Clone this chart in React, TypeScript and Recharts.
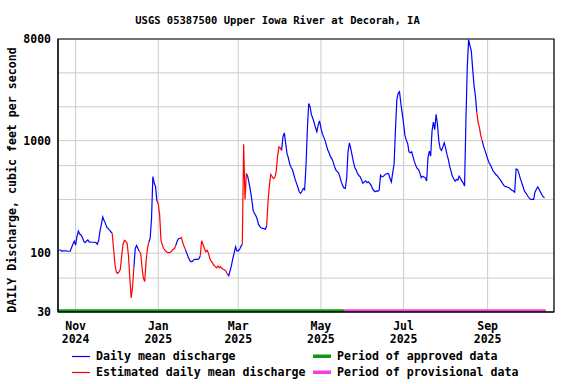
import { LineChart, Line, XAxis, YAxis, CartesianGrid, ReferenceArea } from "recharts";

// daily mean discharge (cfs), one value per day starting 2024-10-20
const START = "2024-10-20";
const discharge = [
  107, 106, 104, 105, 105, 105, 104, 104, 104, 112,
  120, 128, 118, 140, 157, 148, 145, 138, 128, 124,
  128, 131, 126, 125, 125, 125, 125, 124, 120, 130,
  158, 180, 210, 195, 184, 170, 165, 160, 155, 150,
  110, 80, 68, 66, 68, 72, 95, 120, 130, 128,
  122, 95, 60, 40, 50, 75, 110, 117, 110, 104,
  100, 75, 60, 56, 85, 110, 125, 135, 200, 480,
  420, 390, 290, 275, 220, 130, 118, 110, 106, 103,
  101, 101, 102, 105, 108, 110, 118, 128, 135, 135,
  138, 125, 115, 108, 100, 93, 87, 84, 84, 87,
  88, 88, 88, 89, 95, 129, 120, 110, 103, 106,
  100, 90, 85, 82, 78, 76, 74, 77, 74, 76,
  73, 72, 71, 69, 65, 63, 70, 78, 90, 100,
  114, 105, 105, 108, 115, 120, 930, 300, 510, 480,
  420, 360, 300, 240, 225, 215, 200, 180, 172, 168,
  166, 165, 163, 175, 290, 400, 500, 480, 460, 470,
  530, 720, 880, 860, 820, 1080, 1170, 950, 770, 700,
  620, 580, 550, 500, 452, 417, 385, 351, 340, 355,
  376, 365, 600, 1258, 2140, 2000, 1700, 1580, 1450, 1300,
  1200, 1374, 1500, 1300, 1160, 1080, 1010, 912, 830, 780,
  720, 695, 648, 590, 550, 530, 517, 477, 430, 400,
  380, 376, 461, 795, 956, 853, 743, 648, 578, 547,
  511, 490, 477, 446, 417, 430, 439, 422, 430, 417,
  402, 376, 360, 351, 358, 355, 362, 494, 477, 480,
  494, 505, 511, 505, 461, 430, 520, 620, 1240, 2290,
  2630, 2720, 2140, 1745, 1420, 1119, 1010, 944, 795, 779,
  795, 718, 650, 600, 566, 555, 517, 467, 483, 475,
  467, 437, 703, 807, 728, 1214, 1459, 1250, 1710, 1394,
  1000, 850, 818, 880, 956, 863, 754, 681, 593, 536,
  483, 458, 437, 452, 446, 483, 460, 437, 422, 394,
  1500, 4500, 7900, 7000, 6250, 4300, 3100, 2500, 1800, 1450,
  1300, 1100, 1000, 893, 824, 754, 690, 640, 610, 573,
  540, 520, 500, 491, 470, 455, 437, 417, 400, 392,
  388, 385, 380, 370, 362, 356, 348, 560, 555, 517,
  467, 430, 395, 360, 345, 332, 317, 305, 300, 300,
  300, 350, 370, 388, 370, 350, 330, 318, 310,
];

// day-index spans drawn as estimated (red)
const estimatedRanges = [
  [39, 55], [59, 66], [72, 86], [89, 93], [104, 124],
  [135, 138], [153, 164], [308, 312],
];

const axisRange = ["2024-10-19", "2025-10-20"];
const approvedPeriod = ["2024-10-19", "2025-05-18"];
const provisionalPeriod = ["2025-05-18", "2025-10-14"];

const monthTicks = [
  { date: "2024-11-01", month: "Nov", year: "2024" },
  { date: "2025-01-01", month: "Jan", year: "2025" },
  { date: "2025-03-01", month: "Mar", year: "2025" },
  { date: "2025-05-01", month: "May", year: "2025" },
  { date: "2025-07-01", month: "Jul", year: "2025" },
  { date: "2025-09-01", month: "Sep", year: "2025" },
];

const gridValues = [
  30, 40, 50, 60, 70, 80, 90, 100, 200, 300, 400, 500, 600, 700, 800, 900,
  1000, 2000, 3000, 4000, 5000, 6000, 7000, 8000,
];
const labeledValues = [30, 100, 1000, 8000];

const dayIndex = (iso: string) =>
  Math.round((Date.parse(iso + "T00:00:00Z") - Date.parse(START + "T00:00:00Z")) / 86400000);

const FONT = "'DejaVu Sans Mono', monospace";
const BLUE = "#0000ff";
const RED = "#ff0000";
const GREEN = "#109910";
const PINK = "#f040e0";

const W = 576;
const H = 384;
const PLOT_LEFT = 58;
const PLOT_BOTTOM = 312;

const rows = discharge.map((v, i) => {
  const inEst = estimatedRanges.some(([a, b]) => i >= a && i <= b);
  const interior = estimatedRanges.some(([a, b]) => i > a && i < b);
  return { day: i, blue: interior ? null : v, red: inEst ? v : null };
});

const xDomain = axisRange.map(dayIndex);
const tickDays = monthTicks.map((m) => dayIndex(m.date));

function XTick(props: any) {
  const m = monthTicks.find((t) => dayIndex(t.date) === props.payload.value);
  if (!m) return <g />;
  return (
    <g>
      <text x={props.x} y={PLOT_BOTTOM + 18} textAnchor="middle" fontFamily={FONT} fontWeight="bold" fontSize={11.5} fill="#000">
        {m.month}
      </text>
      <text x={props.x} y={PLOT_BOTTOM + 31} textAnchor="middle" fontFamily={FONT} fontWeight="bold" fontSize={11.5} fill="#000">
        {m.year}
      </text>
    </g>
  );
}

function YTick(props: any) {
  if (!labeledValues.includes(props.payload.value)) return <g />;
  return (
    <text x={PLOT_LEFT - 7} y={props.y + 4} textAnchor="end" fontFamily={FONT} fontWeight="bold" fontSize={11.5} fill="#000">
      {props.payload.value}
    </text>
  );
}

export default function App() {
  return (
    <div style={{ position: "absolute", left: 0, top: 0, width: W, height: H, background: "#fff" }}>
      <LineChart width={W} height={H} data={rows} margin={{ top: 39, right: 22, bottom: 32, left: 0 }}>
        <CartesianGrid stroke="#cccccc" strokeWidth={1} />
        <XAxis
          dataKey="day"
          type="number"
          domain={xDomain}
          ticks={tickDays}
          height={40}
          tickLine={false}
          axisLine={{ stroke: "#000" }}
          tick={<XTick />}
          allowDataOverflow
        />
        <YAxis
          type="number"
          scale="log"
          domain={[30, 8000]}
          ticks={gridValues}
          width={PLOT_LEFT}
          tickLine={false}
          axisLine={{ stroke: "#000" }}
          tick={<YTick />}
          allowDataOverflow
        />
        <ReferenceArea x1={dayIndex(approvedPeriod[0])} x2={dayIndex(approvedPeriod[1])} y1={30} y2={31.8} fill={GREEN} fillOpacity={1} stroke="none" />
        <ReferenceArea x1={dayIndex(provisionalPeriod[0])} x2={dayIndex(provisionalPeriod[1])} y1={30} y2={31.8} fill={PINK} fillOpacity={1} stroke="none" />
        <ReferenceArea x1={xDomain[0]} x2={xDomain[1]} y1={30} y2={8000} fill="none" stroke="#000" strokeWidth={1.2} />
        <Line dataKey="blue" stroke={BLUE} strokeWidth={1.2} dot={false} type="linear" isAnimationActive={false} connectNulls={false} />
        <Line dataKey="red" stroke={RED} strokeWidth={1.2} dot={false} type="linear" isAnimationActive={false} connectNulls={false} />
      </LineChart>
      <svg width={W} height={H} style={{ position: "absolute", left: 0, top: 0, pointerEvents: "none" }}>
        <text x={277.5} y={24} textAnchor="middle" fontFamily={FONT} fontWeight="bold" fontSize={10.5} fill="#000">
          USGS 05387500 Upper Iowa River at Decorah, IA
        </text>
        <text
          transform="translate(15.5,180) rotate(-90)"
          textAnchor="middle"
          fontFamily={FONT}
          fontWeight="bold"
          fontSize={11.6}
          fill="#000"
        >
          DAILY Discharge, cubic feet per second
        </text>
        <line x1={72} x2={90} y1={356.5} y2={356.5} stroke={BLUE} strokeWidth={1.2} />
        <text x={96} y={360} fontFamily={FONT} fontWeight="bold" fontSize={11.6} fill="#000">Daily mean discharge</text>
        <line x1={72} x2={90} y1={372.5} y2={372.5} stroke={RED} strokeWidth={1.2} />
        <text x={96} y={376} fontFamily={FONT} fontWeight="bold" fontSize={11.6} fill="#000">Estimated daily mean discharge</text>
        <rect x={313} y={354.5} width={18} height={3.5} fill={GREEN} />
        <text x={337} y={360} fontFamily={FONT} fontWeight="bold" fontSize={11.6} fill="#000">Period of approved data</text>
        <rect x={313} y={370.5} width={18} height={3.5} fill={PINK} />
        <text x={337} y={376} fontFamily={FONT} fontWeight="bold" fontSize={11.6} fill="#000">Period of provisional data</text>
      </svg>
    </div>
  );
}
